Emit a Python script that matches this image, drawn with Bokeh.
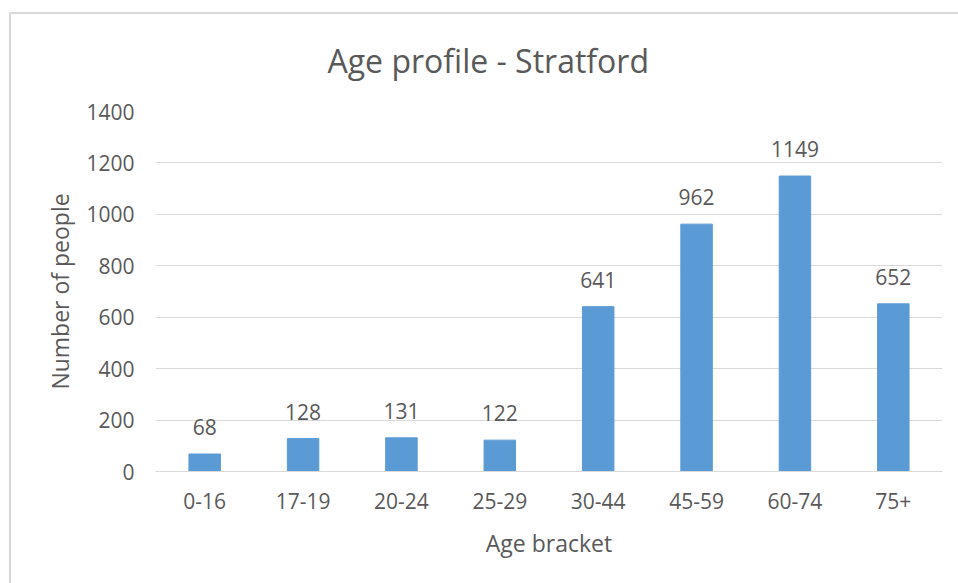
from bokeh.plotting import figure
from bokeh.models import ColumnDataSource, LabelSet, Range1d, FixedTicker, InlineStyleSheet
from bokeh.core.properties import value
from bokeh.embed import file_html
from bokeh.resources import INLINE

categories = ["0-16", "17-19", "20-24", "25-29", "30-44", "45-59", "60-74", "75+"]
values = [68, 128, 131, 122, 641, 962, 1149, 652]
y_ticks = [0, 200, 400, 600, 800, 1000, 1200, 1400]

FONT = "Open Sans"
TXT = "#595959"
BAR = "#5B9BD5"
GRID = "#D9D9D9"

src = ColumnDataSource(data=dict(cat=categories, val=values, lbl=[str(v) for v in values]))

p = figure(x_range=categories, y_range=Range1d(0, 1400), width=958, height=583,
           output_backend="svg", toolbar_location=None,
           min_border_left=155, min_border_right=16, min_border_top=111, min_border_bottom=112)

p.title.text = "Age profile - Stratford"
p.title.align = "left"
p.title.text_font = FONT
p.title.text_font_size = "32px"
p.title.text_font_style = "normal"
p.title.text_color = TXT
p.title.offset = 172
p.title.standoff = 60

p.vbar(x="cat", top="val", width=0.32, source=src, color=BAR, line_color=BAR)

labels = LabelSet(x="cat", y="val", text="lbl", source=src, text_align="center",
                  text_baseline="alphabetic", y_offset=19, text_font=value(FONT),
                  text_font_size=value("21px"), text_color=TXT)
p.add_layout(labels)

p.stylesheets = [InlineStyleSheet(css="""
:host::after {
  content: "";
  position: absolute;
  left: 9px;
  top: 12px;
  width: calc(100% - 9px);
  height: calc(100% - 12px);
  border-top: 2px solid #D9D9D9;
  border-left: 2px solid #D9D9D9;
  box-sizing: border-box;
  pointer-events: none;
}
""")]

p.yaxis.ticker = FixedTicker(ticks=y_ticks)
p.yaxis.axis_label = "Number of people"
p.xaxis.axis_label = "Age bracket"
for ax in (p.xaxis, p.yaxis):
    ax.axis_label_text_font = FONT
    ax.axis_label_text_font_size = "23px"
    ax.axis_label_text_font_style = "normal"
    ax.axis_label_text_color = TXT
    ax.major_label_text_font = FONT
    ax.major_label_text_font_size = "21px"
    ax.major_label_text_color = TXT
    ax.major_tick_line_color = None
    ax.minor_tick_line_color = None
p.yaxis.axis_line_color = None
p.xaxis.axis_line_color = GRID
p.yaxis.major_label_standoff = 15
p.yaxis.axis_label_standoff = 7
p.xaxis.major_label_standoff = 15
p.xaxis.axis_label_standoff = 15

p.xgrid.grid_line_color = None
p.ygrid.grid_line_color = GRID
p.outline_line_color = None

open("out.html", "w").write(file_html(p, INLINE))
